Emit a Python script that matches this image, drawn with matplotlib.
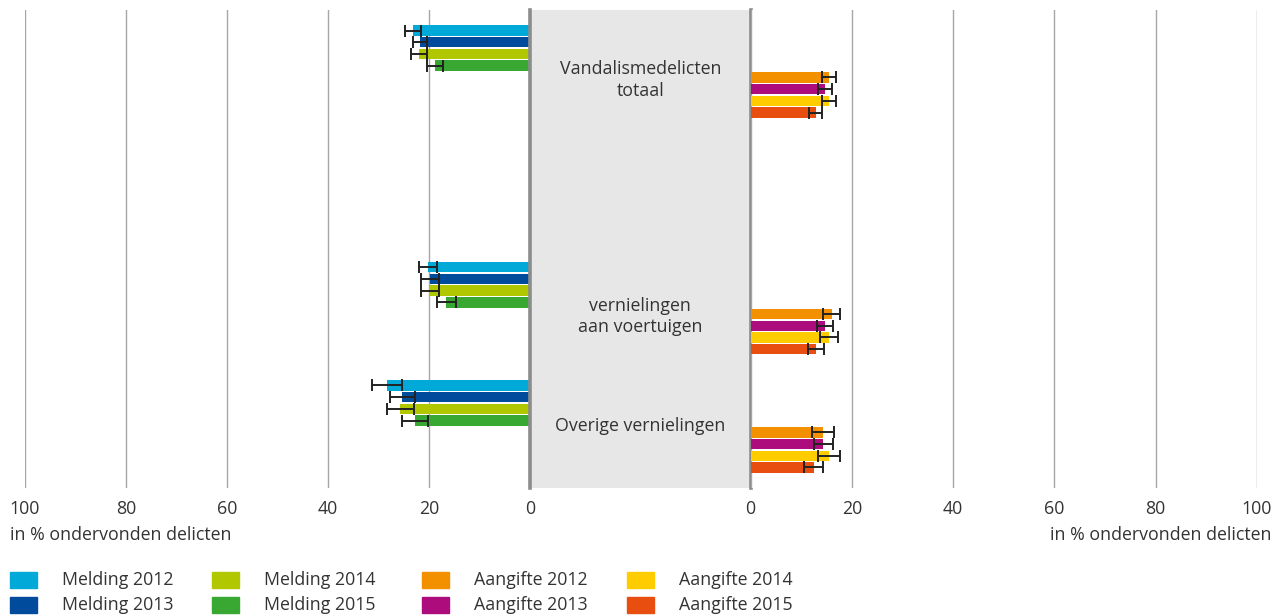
import numpy as np
import matplotlib
matplotlib.use("Agg")
import matplotlib.pyplot as plt
from matplotlib.patches import Rectangle

plt.rcParams['font.family'] = ['Open Sans', 'DejaVu Sans']

# data (percent of experienced offences)
categories = ["Vandalismedelicten\ntotaal", "vernielingen\naan voertuigen", "Overige vernielingen"]
melding_labels = ["Melding 2012", "Melding 2013", "Melding 2014", "Melding 2015"]
aangifte_labels = ["Aangifte 2012", "Aangifte 2013", "Aangifte 2014", "Aangifte 2015"]

melding_2012 = [23.2, 20.2, 28.3]
melding_2013 = [21.8, 19.8, 25.3]
melding_2014 = [22.0, 19.8, 25.7]
melding_2015 = [18.8, 16.6, 22.7]
melding_err_2012 = [1.65, 1.8, 2.9]
melding_err_2013 = [1.4, 1.75, 2.45]
melding_err_2014 = [1.65, 1.85, 2.7]
melding_err_2015 = [1.55, 1.9, 2.55]

aangifte_2012 = [15.5, 16.0, 14.3]
aangifte_2013 = [14.7, 14.7, 14.4]
aangifte_2014 = [15.5, 15.5, 15.5]
aangifte_2015 = [12.9, 12.9, 12.5]
aangifte_err_2012 = [1.35, 1.75, 2.1]
aangifte_err_2013 = [1.3, 1.5, 1.95]
aangifte_err_2014 = [1.4, 1.75, 2.15]
aangifte_err_2015 = [1.3, 1.55, 1.85]

melding_colors = ["#00a9d8", "#004b9b", "#b1c800", "#38a832"]
aangifte_colors = ["#f39000", "#ad0c7d", "#ffcc00", "#e84e0f"]

melding = [melding_2012, melding_2013, melding_2014, melding_2015]
melding_err = [melding_err_2012, melding_err_2013, melding_err_2014, melding_err_2015]
aangifte = [aangifte_2012, aangifte_2013, aangifte_2014, aangifte_2015]
aangifte_err = [aangifte_err_2012, aangifte_err_2013, aangifte_err_2014, aangifte_err_2015]

W, H = 1274, 616
fs = 12.8
fig = plt.figure(figsize=(W / 100, H / 100), dpi=100)

def box(x0, x1, y0, y1):
    return [x0 / W, 1 - y1 / H, (x1 - x0) / W, (y1 - y0) / H]

axL = fig.add_axes(box(25, 530, 10, 488))
axM = fig.add_axes(box(530, 750.5, 10, 488))
axR = fig.add_axes(box(750.5, 1257, 10, 488))

slots = np.array([0, 2, 3])  # an empty slot between first and second group
pitch = 0.099
bh = 0.088
txtc = "#333333"

for i in range(4):
    off = (i - 3.5) * pitch
    axL.barh(slots + off, melding[i], height=bh, color=melding_colors[i], zorder=3)
    axL.errorbar(melding[i], slots + off, xerr=melding_err[i], fmt="none",
                 ecolor="#222222", elinewidth=1.4, capsize=4, capthick=1.4, zorder=4)
    off2 = (i + 4 - 3.5) * pitch
    axR.barh(slots + off2, aangifte[i], height=bh, color=aangifte_colors[i], zorder=3)
    axR.errorbar(aangifte[i], slots + off2, xerr=aangifte_err[i], fmt="none",
                 ecolor="#222222", elinewidth=1.4, capsize=4, capthick=1.4, zorder=4)

for ax, lim in ((axL, (100, 0)), (axR, (0, 100))):
    ax.set_xlim(*lim)
    ax.set_ylim(3.52, -0.52)
    ax.set_yticks([])
    ax.set_xticks([0, 20, 40, 60, 80, 100])
    ax.tick_params(axis="x", length=0, pad=9, labelsize=fs, labelcolor=txtc)
    ax.grid(axis="x", color="#a6a6a6", linewidth=1, zorder=0)
    for s in ax.spines.values():
        s.set_visible(False)

axM.set_xlim(0, 1)
axM.set_ylim(3.52, -0.52)
axM.set_facecolor("#e7e7e7")
axM.set_xticks([])
axM.set_yticks([])
for side in ("top", "bottom"):
    axM.spines[side].set_visible(False)
for side in ("left", "right"):
    axM.spines[side].set_color("#8c8c8c")
    axM.spines[side].set_linewidth(2.6)

for k, cat in enumerate(categories):
    dy = 0.07 if "\n" in cat else 0
    axM.text(0.5, slots[k] + dy, cat, ha="center", va="center", fontsize=fs,
             color=txtc, linespacing=1.25)

fig.text(10 / W, 1 - 535 / H, "in % ondervonden delicten", ha="left", va="center",
         fontsize=fs, color=txtc)
fig.text(1271 / W, 1 - 535 / H, "in % ondervonden delicten", ha="right", va="center",
         fontsize=fs, color=txtc)

# legend, column-major like the original
labels = melding_labels + aangifte_labels
colors = melding_colors + aangifte_colors
col_x = [10, 212, 422, 627]
row_y = [580, 605]
for n, (lab, c) in enumerate(zip(labels, colors)):
    cx = col_x[n // 2]
    ry = row_y[n % 2]
    fig.patches.append(Rectangle((cx / W, 1 - (ry + 8) / H), 27 / W, 16 / H,
                                 color=c, transform=fig.transFigure))
    fig.text((cx + 52) / W, 1 - ry / H, lab, ha="left", va="center",
             fontsize=fs, color=txtc)

fig.savefig("out.png", dpi=100)
